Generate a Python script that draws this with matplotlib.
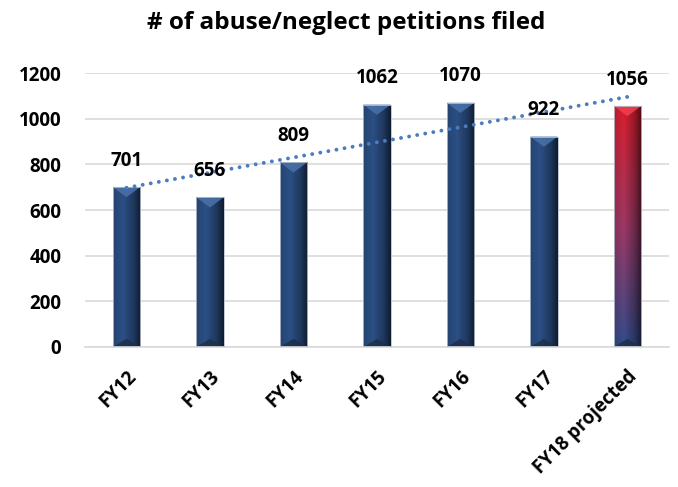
import numpy as np
import matplotlib.pyplot as plt
from matplotlib.patches import Polygon

plt.rcParams['font.family'] = ['Open Sans', 'DejaVu Sans']

categories = ['FY12', 'FY13', 'FY14', 'FY15', 'FY16', 'FY17', 'FY18 projected']
petitions = [701, 656, 809, 1062, 1070, 922, 1056]
title = '# of abuse/neglect petitions filed'

fig = plt.figure(figsize=(6.78, 4.87), dpi=100)
ax = fig.add_axes([0.125, 0.2875, 0.862, 0.5625])

x = np.arange(len(categories))
bars = ax.bar(x, petitions, width=0.33, color='none', edgecolor='#b8c0cc', linewidth=0.6, zorder=3)

# horizontal shading across the bar (light left-centre, dark right edge)
h = np.linspace(0, 1, 64)
shade = np.interp(h, [0, 0.35, 0.75, 1], [0.85, 1.0, 0.7, 0.35])

bevel = 45  # depth of the bevel triangles, in data units
for i, b in enumerate(bars):
    x0, y0 = b.get_x(), b.get_y()
    w, ht = b.get_width(), b.get_height()
    if i == len(bars) - 1:
        # projected bar: red at top fading to blue at bottom
        v = np.linspace(0, 1, 128)[:, None, None]
        top = np.array([0.86, 0.12, 0.18])
        mid = np.array([0.62, 0.22, 0.40])
        bot = np.array([0.20, 0.30, 0.55])
        col = np.where(v < 0.5, top + (mid - top) * (v / 0.5),
                       mid + (bot - mid) * ((v - 0.5) / 0.5))
        col = col * np.ones((1, 64, 1))
        tri_top = '#f04050'
    else:
        base = np.array([0.17, 0.31, 0.52])
        col = np.ones((2, 64, 1)) * base
        tri_top = '#4a72aa'
    img = np.clip(col * shade[None, :, None], 0, 1)
    im = ax.imshow(img, extent=[x0, x0 + w, y0, y0 + ht], origin='upper',
                   aspect='auto', zorder=2, interpolation='bilinear')
    im.set_clip_path(b)
    # bevel highlights
    ax.add_patch(Polygon([[x0, y0 + ht], [x0 + w, y0 + ht], [x0 + w / 2, y0 + ht - bevel]],
                         closed=True, facecolor=tri_top, edgecolor='none', alpha=0.85, zorder=2.5))
    ax.add_patch(Polygon([[x0, y0], [x0 + w, y0], [x0 + w / 2, y0 + bevel * 0.8]],
                         closed=True, facecolor='#1c2e48', edgecolor='none', alpha=0.8, zorder=2.5))

# linear trendline
coef = np.polyfit(x, petitions, 1)
ax.plot(x, np.polyval(coef, x), linestyle=(0, (0.01, 2.1)), color='#4a7cc0',
        linewidth=2.8, dash_capstyle='round', zorder=4)

for xi, v in zip(x, petitions):
    ax.annotate(str(v), (xi, v), xytext=(0, 19), textcoords='offset points',
                ha='center', va='center', fontsize=13.5, fontweight='bold', zorder=5)

ax.set_xlim(-0.5, len(categories) - 0.5)
ax.set_ylim(0, 1200)
ax.set_yticks(range(0, 1201, 200))
ax.grid(axis='y', color='#d9d9d9', linewidth=1.2, zorder=0)
ax.set_axisbelow(True)
for s in ['top', 'right', 'left']:
    ax.spines[s].set_visible(False)
ax.spines['bottom'].set_color('#d9d9d9')
ax.spines['bottom'].set_linewidth(1.2)
ax.tick_params(length=0)
ax.set_xticks(x)
ax.set_xticklabels(categories, rotation=45, ha='right', rotation_mode='anchor',
                   fontsize=13.5, fontweight='bold')
for lab in ax.get_yticklabels():
    lab.set_fontsize(13.5)
    lab.set_fontweight('bold')
ax.tick_params(axis='y', pad=17)
ax.tick_params(axis='x', pad=14)

fig.text(0.51, 0.953, title, ha='center', va='center', fontsize=17.5, fontweight='bold')

fig.savefig('out.png', dpi=100)
